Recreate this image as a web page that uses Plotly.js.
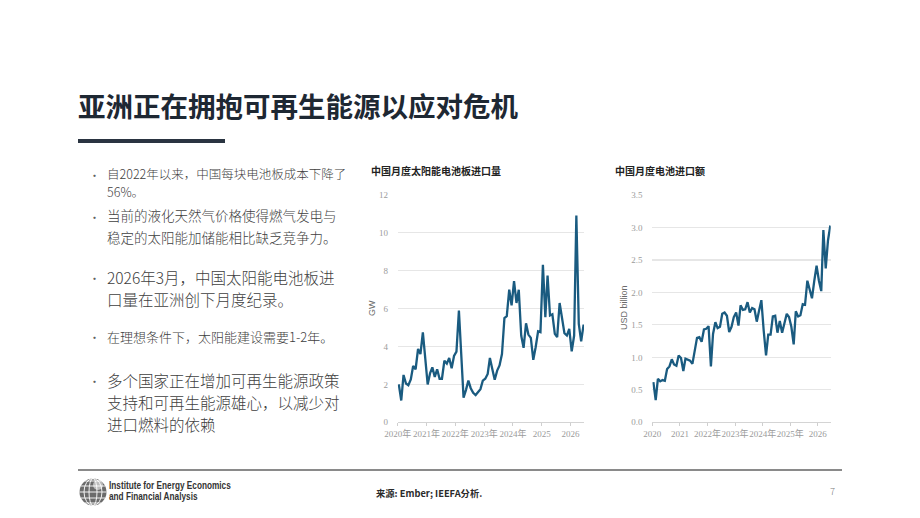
<!DOCTYPE html>
<html>
<head>
<meta charset="utf-8">
<script src="https://cdn.plot.ly/plotly-3.0.1.min.js"></script>
<style>
  html, body { margin:0; padding:0; background:#fff; }
  #page { position:relative; width:920px; height:518px; overflow:hidden; background:#fff;
          font-family:"Noto Sans CJK SC","Noto Sans",sans-serif; }
  #chart { position:absolute; left:0; top:0; width:920px; height:518px; }
  .t { position:absolute; white-space:nowrap; line-height:1; transform:translateY(-50%); color:#404040; font-weight:300; }
  .b { position:absolute; line-height:1; transform:translateY(-50%); color:#606060; font-size:11px; }
  .n { position:absolute; white-space:nowrap; line-height:1; transform-origin:0 50%; transform:translateY(-50%) scaleX(0.8);
       font-size:10.3px; font-weight:700; color:#333; font-family:"Liberation Sans","Noto Sans",sans-serif; }
</style>
</head>
<body>
<div id="page">
  <div id="chart"></div>

  <div class="t" style="left:78px; top:106px; font-size:27.5px; font-weight:700; color:#1e2833;">亚洲正在拥抱可再生能源以应对危机</div>
  <div style="position:absolute; left:78px; top:139px; width:147px; height:4px; background:#2a3441;"></div>

  <div class="b" style="left:89px; top:175px;">·</div>
  <div class="t" style="left:107px; top:174px; font-size:12.5px;">自2022年以来，中国每块电池板成本下降了</div>
  <div class="t" style="left:107px; top:192px; font-size:12.5px;">56%。</div>

  <div class="b" style="left:89px; top:217px;">·</div>
  <div class="t" style="left:107px; top:216px; font-size:13.5px;">当前的液化天然气价格使得燃气发电与</div>
  <div class="t" style="left:107px; top:237.5px; font-size:13.5px;">稳定的太阳能加储能相比缺乏竞争力。</div>

  <div class="b" style="left:89px; top:278px;">·</div>
  <div class="t" style="left:107px; top:278px; font-size:15.5px;">2026年3月，中国太阳能电池板进</div>
  <div class="t" style="left:107px; top:300px; font-size:15.5px;">口量在亚洲创下月度纪录。</div>

  <div class="b" style="left:89px; top:337px;">·</div>
  <div class="t" style="left:107px; top:336px; font-size:13px;">在理想条件下，太阳能建设需要1-2年。</div>

  <div class="b" style="left:89px; top:381px;">·</div>
  <div class="t" style="left:107px; top:381px; font-size:15.5px;">多个国家正在增加可再生能源政策</div>
  <div class="t" style="left:107px; top:403px; font-size:15.5px;">支持和可再生能源雄心，以减少对</div>
  <div class="t" style="left:107px; top:425px; font-size:15.5px;">进口燃料的依赖</div>

  <div style="position:absolute; left:78px; top:469px; width:764px; height:1.5px; background:#8a8a8a;"></div>

  <svg style="position:absolute; left:78px; top:477px;" width="30" height="30" viewBox="0 0 30 30">
    <circle cx="15" cy="15" r="13.5" fill="#6b6b6b"/>
    <g fill="none" stroke="#fff" stroke-width="0.9">
      <ellipse cx="15" cy="15" rx="4" ry="13.5"/>
      <ellipse cx="15" cy="15" rx="9" ry="13.5"/>
      <line x1="1.5" y1="15" x2="28.5" y2="15"/>
      <line x1="3" y1="9" x2="27" y2="9"/>
      <line x1="3" y1="21" x2="27" y2="21"/>
      <line x1="7" y1="4" x2="23" y2="4"/>
      <line x1="7" y1="26" x2="23" y2="26"/>
    </g>
    <circle cx="20" cy="8" r="5" fill="#fff" opacity="0.55"/>
  </svg>
  <div class="n" style="left:109px; top:486px;">Institute for Energy Economics</div>
  <div class="n" style="left:109px; top:496.5px;">and Financial Analysis</div>

  <div class="t" style="left:376px; top:494px; font-size:9.3px; font-weight:700; color:#2a2a2a;">来源: Ember; IEEFA分析.</div>
  <div class="t" style="left:830px; top:492px; font-size:9.5px; color:#7a7a7a;">7</div>
</div>

<script>
// Monthly data, Jan 2020 – Jun 2026
const solarImportsGW = [
  2.0, 1.15, 2.5, 2.05, 1.96, 2.26, 2.97, 2.8, 3.87, 3.6, 4.75, 3.46,
  2.0, 2.6, 2.9, 2.4, 2.8, 2.3, 2.3, 3.25, 3.1, 3.4, 2.85, 3.5,
  3.73, 5.9, 3.6, 1.3, 1.7, 2.2, 1.8, 1.56, 1.44, 1.6, 1.75, 2.2,
  2.3, 2.55, 3.4, 2.8, 2.25, 2.73, 3.0, 3.6, 5.5, 5.6, 7.0, 6.17,
  7.45, 6.3, 7.0, 4.58, 3.93, 5.23, 4.63, 4.46, 3.3, 3.96, 4.8, 4.76,
  8.32, 5.55, 7.75, 5.64, 5.7, 4.67, 4.5, 6.3, 5.46, 4.7, 4.58, 4.93,
  3.75, 4.58, 10.92, 5.2, 4.28, 5.16
];
const batteryImportsUSD = [
  0.62, 0.34, 0.67, 0.63, 0.65, 0.64, 0.82, 0.86, 0.97, 0.89, 0.87, 1.03,
  0.99, 0.79, 0.98, 0.96, 0.95, 0.9, 1.08, 1.3, 1.31, 1.24, 1.43, 1.44,
  1.48, 0.86, 1.36, 1.54, 1.45, 1.47, 1.67, 1.69, 1.64, 1.39, 1.47, 1.62,
  1.69, 1.49, 1.8, 1.73, 1.74, 1.85, 1.69, 1.76, 1.74, 1.55, 1.72, 1.88,
  1.41, 1.03, 1.35, 1.35, 1.63, 1.64, 1.38, 1.56, 1.38, 1.54, 1.67, 1.62,
  1.47, 1.2, 1.71, 1.63, 1.65, 1.82, 1.81, 2.18, 2.04, 1.91, 2.18, 2.41,
  2.18, 2.02, 2.96, 2.37, 2.8, 3.03
];
const months = [];
for (let y = 2020; y <= 2026; y++) {
  for (let m = 1; m <= 12; m++) {
    if (months.length < solarImportsGW.length) months.push(y + '-' + String(m).padStart(2, '0') + '-15');
  }
}
const yearTickVals = ['2020-01-01','2021-01-01','2022-01-01','2023-01-01','2024-01-01','2025-01-01','2026-01-01'];
const leftTickText = ['2020年','2021年','2022年','2023年','2024年','2025','2026'];
const rightTickText = ['2020','2021','2022年','2023年','2024年','2025年','2026'];
const leftTitle = '中国月度太阳能电池板进口量';
const rightTitle = '中国月度电池进口额';
const leftUnit = 'GW';
const rightUnit = 'USD billion';

const W = 920, H = 518;
const px = v => v / W, py = v => 1 - v / H;
const lineColor = '#1a5b80';
const tickFont = {family: 'Liberation Serif, Noto Sans CJK SC, serif', size: 9, color: '#9b9b9b'};

const xCommon = {
  type: 'date', range: ['2020-01-01', '2026-06-20'],
  tickmode: 'array', tickvals: yearTickVals, tickangle: 0,
  ticks: 'outside', ticklen: 3, tickcolor: '#cfcfcf', tickwidth: 1,
  showline: true, linecolor: '#d4d4d4', linewidth: 1,
  showgrid: false, zeroline: false, tickfont: tickFont, fixedrange: true
};
const yCommon = {
  showgrid: true, gridcolor: '#e6e6e6', gridwidth: 1.2, zeroline: false, showline: false,
  ticks: 'outside', ticklen: 7, tickcolor: 'rgba(0,0,0,0)', tickfont: tickFont, fixedrange: true
};

const data = [
  {x: months, y: solarImportsGW, type: 'scatter', mode: 'lines', xaxis: 'x', yaxis: 'y',
   line: {color: lineColor, width: 2.3}, hoverinfo: 'skip'},
  {x: months, y: batteryImportsUSD, type: 'scatter', mode: 'lines', xaxis: 'x2', yaxis: 'y2',
   line: {color: lineColor, width: 2.3}, hoverinfo: 'skip'}
];

const layout = {
  width: W, height: H, margin: {l: 0, r: 0, t: 0, b: 0},
  paper_bgcolor: 'rgba(0,0,0,0)', plot_bgcolor: 'rgba(0,0,0,0)',
  showlegend: false,
  xaxis: Object.assign({}, xCommon, {domain: [px(397.7), px(584)], anchor: 'y', ticktext: leftTickText}),
  yaxis: Object.assign({}, yCommon, {domain: [py(422.3), py(195)], anchor: 'x', range: [0, 12], dtick: 2}),
  xaxis2: Object.assign({}, xCommon, {domain: [px(652.3), px(830.7)], anchor: 'y2', ticktext: rightTickText}),
  yaxis2: Object.assign({}, yCommon, {domain: [py(422.3), py(195)], anchor: 'x2', range: [0, 3.5], dtick: 0.5, tickformat: '.1f'}),
  annotations: [
    {text: '<b>' + leftTitle + '</b>', xref: 'paper', yref: 'paper', x: px(369), y: py(170),
     xanchor: 'left', yanchor: 'middle', showarrow: false,
     font: {family: 'Noto Sans CJK SC, sans-serif', size: 10, color: '#222'}},
    {text: '<b>' + rightTitle + '</b>', xref: 'paper', yref: 'paper', x: px(613), y: py(170),
     xanchor: 'left', yanchor: 'middle', showarrow: false,
     font: {family: 'Noto Sans CJK SC, sans-serif', size: 10, color: '#222'}},
    {text: leftUnit, xref: 'paper', yref: 'paper', x: px(372), y: py(308), textangle: -90,
     xanchor: 'center', yanchor: 'middle', showarrow: false,
     font: {family: 'Liberation Sans, Noto Sans, sans-serif', size: 9, color: '#6a6a6a'}},
    {text: rightUnit, xref: 'paper', yref: 'paper', x: px(624), y: py(308), textangle: -90,
     xanchor: 'center', yanchor: 'middle', showarrow: false,
     font: {family: 'Liberation Sans, Noto Sans, sans-serif', size: 9, color: '#6a6a6a'}}
  ]
};

Plotly.newPlot('chart', data, layout, {displayModeBar: false, staticPlot: true});
</script>
</body>
</html>
